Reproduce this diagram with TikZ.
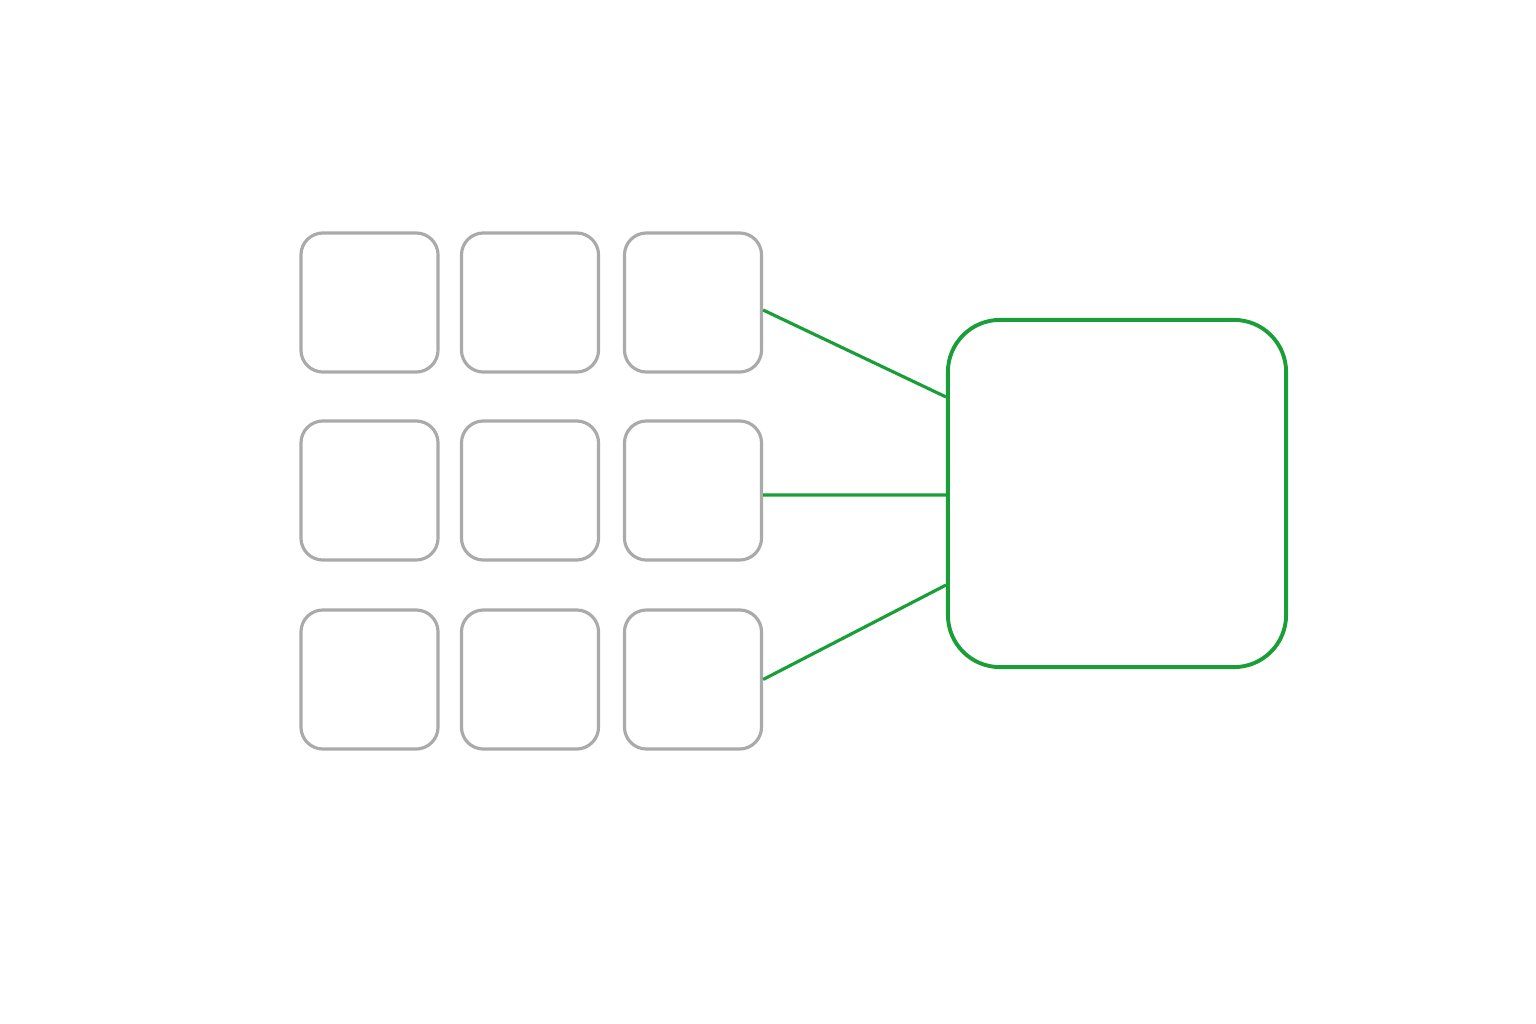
\documentclass[tikz,border=0pt]{standalone}
\usepackage{tikz}

\definecolor{boxgray}{HTML}{AAAAAA}
\definecolor{hubgreen}{HTML}{1A9E38}

\begin{document}
\begin{tikzpicture}[x=0.01cm,y=-0.01cm]
        \useasboundingbox (0,0) rectangle (1536,1024);
        \begin{scope}[every node/.style={draw=boxgray,line width=0.9pt,rounded corners=0.22cm,
                minimum width=1.37cm,minimum height=1.39cm,inner sep=0pt}]
            \node (B11) at (369.5,302.5) {};
            \node (B12) at (530,302.5) {};
            \node (B13) at (693,302.5) {};

            \node (B21) at (369.5,490.5) {};
            \node (B22) at (530,490.5) {};
            \node (B23) at (693,490.5) {};

            \node (B31) at (369.5,679.5) {};
            \node (B32) at (530,679.5) {};
            \node (B33) at (693,679.5) {};
        \end{scope}

        \node[draw=hubgreen,line width=1.1pt,rounded corners=0.52cm,
            minimum width=3.38cm,minimum height=3.47cm,inner sep=0pt] (H) at (1117,493.5) {};

        \begin{scope}[every edge/.style={draw=hubgreen,line width=0.9pt}]
            \path ([yshift=-0.075cm]B13.east) edge ([yshift=0.965cm]H.west);
            \path ([yshift=-0.045cm]B23.east) edge ([yshift=-0.015cm]H.west);
            \path (B33.east) edge ([yshift=-0.915cm]H.west);
        \end{scope}
    \end{tikzpicture}
\end{document}
